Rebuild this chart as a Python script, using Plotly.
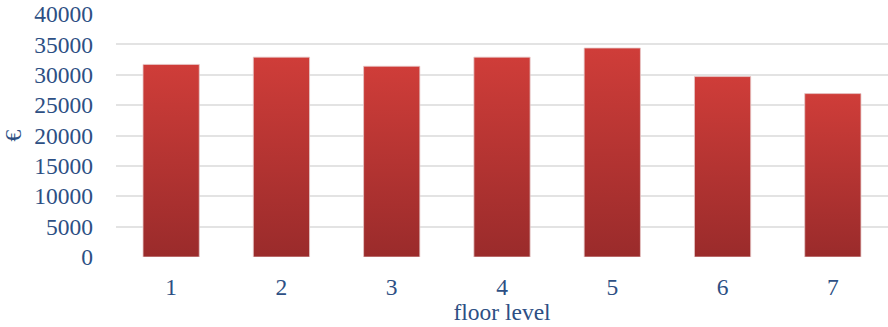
import plotly.graph_objects as go

# Average price per floor level
floors = [1, 2, 3, 4, 5, 6, 7]
prices = [31700, 32900, 31400, 32900, 34400, 29700, 26900]
y_ticks = [0, 5000, 10000, 15000, 20000, 25000, 30000, 35000, 40000]

BAR_HALF = 0.255
TEXT = "#2D4F84"
FONT = "Liberation Serif, Times New Roman, serif"
SIZE = 23.5

fig = go.Figure()

# soft drop shadow under each bar
for f in floors:
    fig.add_trace(go.Scatter(
        x=[f - BAR_HALF, f + BAR_HALF, f + BAR_HALF, f - BAR_HALF, f - BAR_HALF],
        y=[-900, -900, 0, 0, -900],
        mode="lines", line=dict(width=0), fill="toself",
        fillcolor="rgba(90,90,90,0.35)", hoverinfo="skip", showlegend=False,
    ))

# bars as filled rectangles with a vertical red gradient
for f, p in zip(floors, prices):
    fig.add_trace(go.Scatter(
        x=[f - BAR_HALF, f + BAR_HALF, f + BAR_HALF, f - BAR_HALF, f - BAR_HALF],
        y=[0, 0, p, p, 0],
        mode="lines", line=dict(width=1, color="rgba(230,200,200,0.8)"),
        fill="toself",
        fillgradient=dict(type="vertical",
                          colorscale=[[0, "#9A2B2B"], [1, "#CF3D39"]]),
        hovertemplate=f"floor {f}: {p} €<extra></extra>",
        showlegend=False,
    ))

fig.update_layout(
    width=888, height=327,
    margin=dict(l=116, r=0, t=14, b=70),
    paper_bgcolor="white", plot_bgcolor="white",
    font=dict(family=FONT, size=SIZE, color=TEXT),
    showlegend=False,
)
fig.update_xaxes(
    range=[0.5, 7.5], tickmode="array", tickvals=floors,
    ticktext=[str(f) for f in floors], showgrid=False, zeroline=False,
    ticklabelstandoff=13,
    title=dict(text="floor level", font=dict(size=SIZE, color=TEXT), standoff=0),
)
fig.update_yaxes(
    range=[0, 40000], tickmode="array", tickvals=y_ticks,
    ticktext=[str(v) for v in y_ticks],
    showgrid=True, gridcolor="#E3E3E3", gridwidth=2,
    zeroline=False, ticklabelstandoff=22,
    title=dict(text="€", font=dict(size=SIZE, color=TEXT), standoff=6),
)

fig.write_html("out.html")
